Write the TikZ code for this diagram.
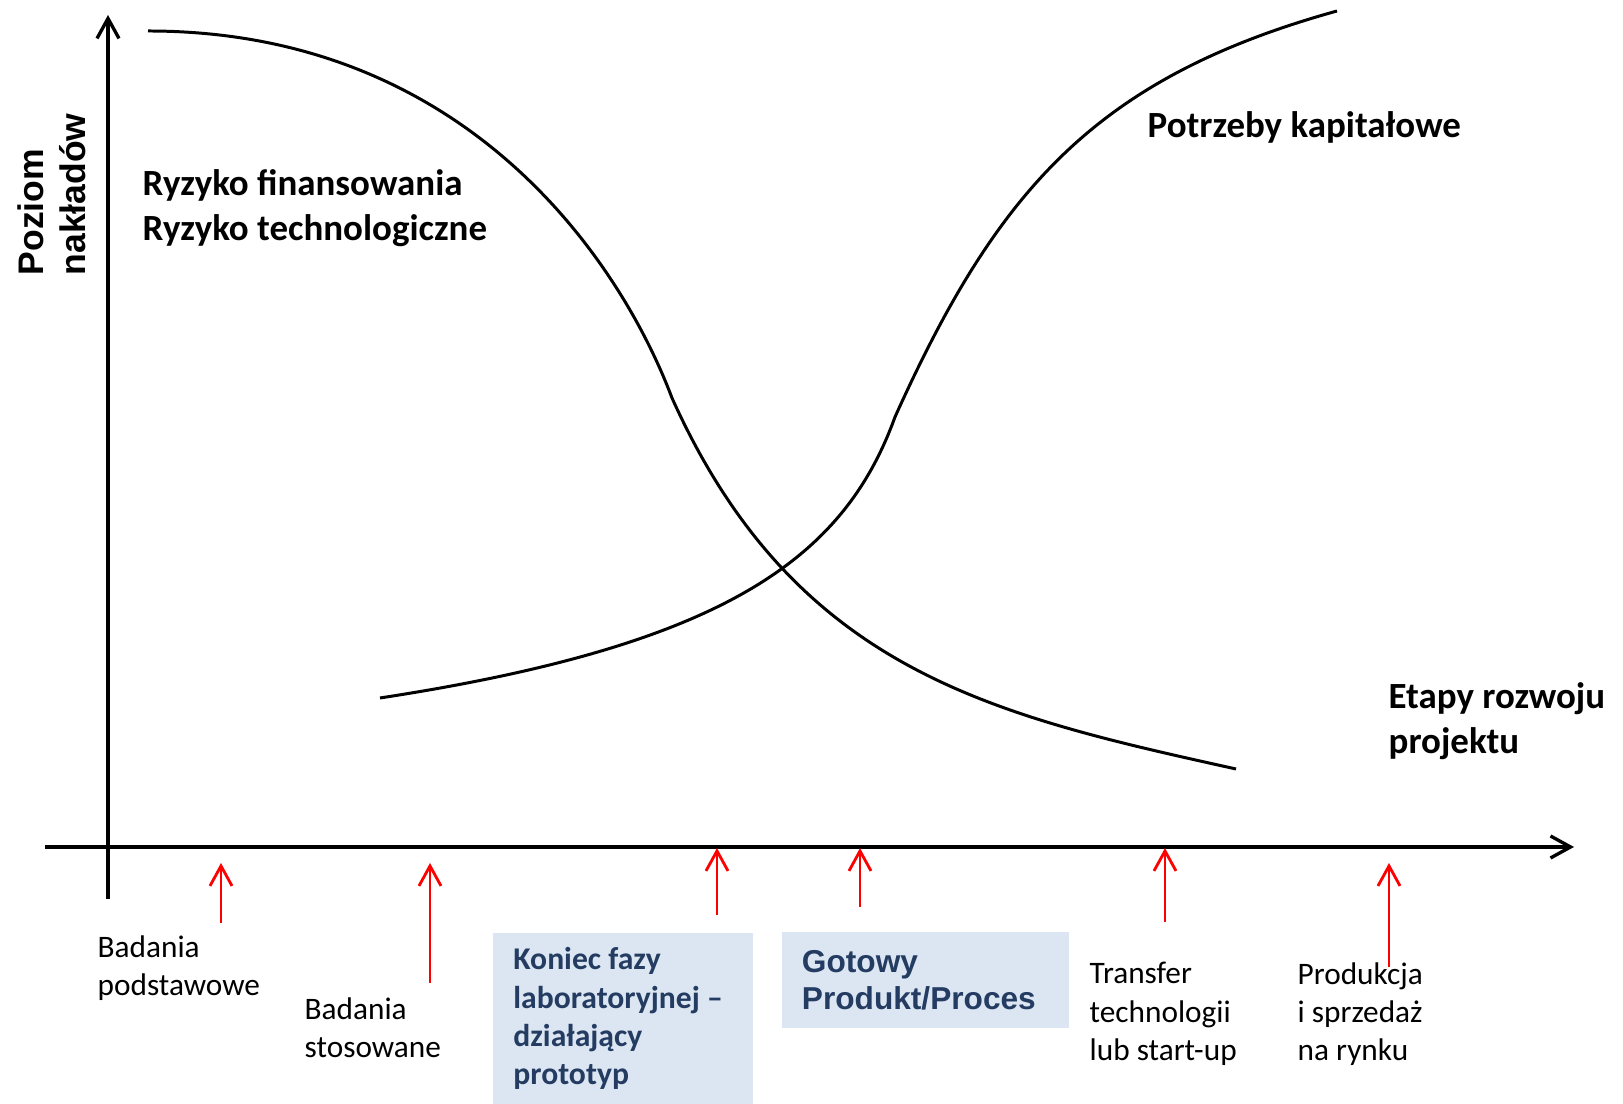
\documentclass[tikz,border=0pt]{standalone}
\usepackage{fontspec}
\setmainfont{Carlito}
\newfontfamily\arialfont{Liberation Sans}
\usetikzlibrary{positioning, arrows.meta}

\definecolor{boxblue}{RGB}{220,230,242}
\definecolor{navytext}{RGB}{36,60,98}

\begin{document}
\begin{tikzpicture}[
    x=0.01cm, y=-0.01cm,
    axis/.style={line width=0.95pt, -{Straight Barb[length=0.2cm, width=0.22cm]}},
    curve/.style={line width=0.85pt},
    redarrow/.style={red, line width=0.8pt, -{Straight Barb[length=0.2cm, width=0.22cm]}},
    biglabel/.style={font=\bfseries\fontsize{10.5}{12.7}\selectfont, align=left, inner sep=0},
    stage/.style={font=\fontsize{8.9}{10.9}\selectfont, align=left, inner sep=0},
    stagebox/.style={fill=boxblue, text=navytext, align=flush left, inner ysep=0, anchor=north west}
]
\useasboundingbox (0,0) rectangle (1623,1104);

% Axes
\coordinate (ybot) at (108,899);
\coordinate (ytop) at (108,15);
\coordinate (xleft) at (45,847);
\coordinate (xright) at (1574,847);
\draw[axis] (ybot) -- (ytop);
\draw[axis] (xleft) -- (xright);

% Axis titles
\node[font=\arialfont\bfseries\fontsize{10.1}{11.8}\selectfont, rotate=90, align=left, anchor=west, inner sep=0] (level) at (52,276) {Poziom\\nakładów};
\node[biglabel, anchor=west] (stages) at (1388,721) {Etapy rozwoju\\projektu};

% Risk curve
\draw[curve] (148,31) .. controls (470,31) and (622,265) .. (672,398)
    .. controls (795,671) and (992,715) .. (1236,769);

% Capital curve
\draw[curve] (380,698) .. controls (726,645) and (844,558) .. (895,417)
    .. controls (997.5,189.5) and (1096,78) .. (1337,11);

\node[biglabel, anchor=west] (risk) at (142,208) {Ryzyko finansowania\\Ryzyko technologiczne};
\node[biglabel, anchor=west] (capital) at (1147,127) {Potrzeby kapitałowe};

% Milestone arrows
\foreach \i/\x/\ytip/\yfoot in {1/221/863/923, 2/430/863/983, 3/717/848/915, 4/860/848/907, 5/1165/848/922, 6/1389/863/967} {
    \coordinate (tip\i) at (\x,\ytip);
    \coordinate (foot\i) at (\x,\yfoot);
    \draw[redarrow] (foot\i) -- (tip\i);
}

% Stages
\node[stage, anchor=west] (basic) at (97,968) {Badania\\podstawowe};
\node[stage, anchor=west] (applied) at (304,1028) {Badania\\stosowane};
\node[stagebox, font=\bfseries\fontsize{9}{10.9}\selectfont, inner xsep=0.207cm, text width=2.19cm, minimum height=1.72cm] (prototype) at (492,932) {Koniec fazy\\laboratoryjnej –\\działający\\prototyp};
\node[stagebox, font=\arialfont\bfseries\fontsize{9}{10.6}\selectfont, inner xsep=0.197cm, text width=2.476cm, minimum height=0.96cm] (product) at (781.5,931.6) {Gotowy\\Produkt/Proces};
\node[stage, anchor=west] (transfer) at (1089,1014) {Transfer\\technologii\\lub start-up};
\node[stage, anchor=west] (market) at (1297,1014) {Produkcja\\i sprzedaż\\na rynku};

\end{tikzpicture}
\end{document}
